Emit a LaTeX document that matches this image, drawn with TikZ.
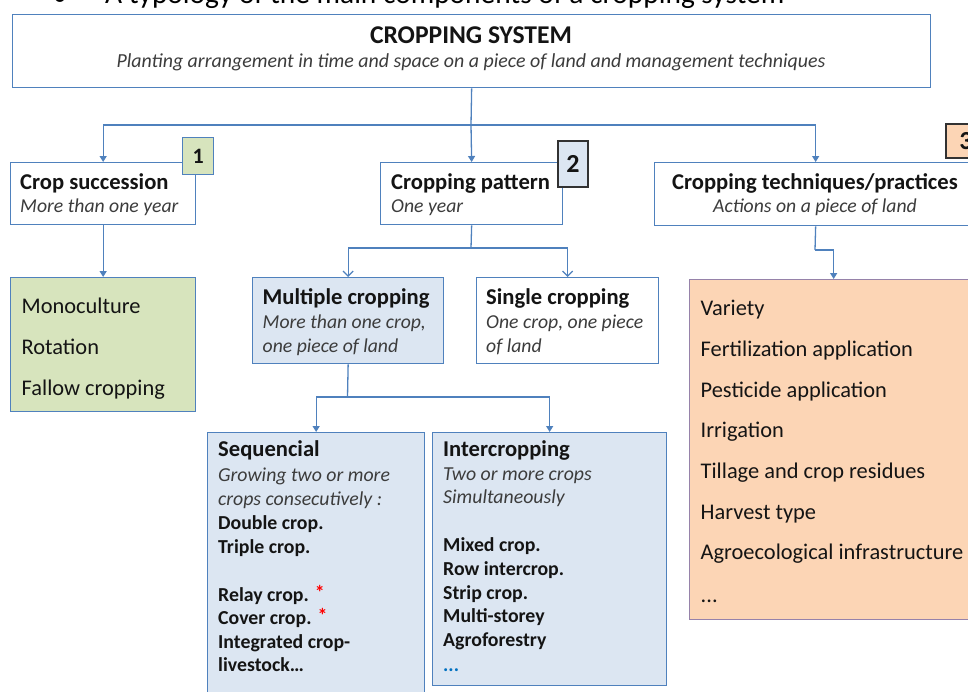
\documentclass[tikz,border=0pt]{standalone}
\usepackage{fontspec}
\setmainfont{Carlito}
\usetikzlibrary{arrows.meta}
\definecolor{lineblue}{RGB}{79,129,189}
\definecolor{lightblue}{RGB}{220,230,242}
\definecolor{lightgreen}{RGB}{215,228,189}
\definecolor{peach}{RGB}{252,213,181}
\definecolor{mauve}{RGB}{150,130,170}
\definecolor{darkedge}{RGB}{50,50,50}
\definecolor{textdark}{RGB}{20,20,20}
\definecolor{subgray}{RGB}{60,60,60}
\definecolor{dotblue}{RGB}{0,112,192}
\begin{document}
\begin{tikzpicture}[x=1pt,y=-1pt,
  box/.style={draw=lineblue, line width=1.3pt, rectangle, inner sep=0pt, anchor=north west},
  badge/.style={rectangle, inner sep=0pt, anchor=north west, font=\fontsize{22}{26}\selectfont\bfseries, text=textdark},
  conn/.style={draw=lineblue, line width=1.3pt},
  arr/.style={conn, -{Triangle[length=6pt,width=7pt]}},
  varr/.style={conn, -{Straight Barb[length=5pt,width=10pt]}},
  txt/.style={anchor=base west, inner sep=0pt, text=textdark},
  btitle/.style={txt, font=\fontsize{22.6}{27}\selectfont\bfseries},
  isub/.style={txt, font=\fontsize{19.7}{23}\selectfont\itshape, text=subgray},
  item/.style={txt, font=\fontsize{22.4}{26}\selectfont},
  sbold/.style={txt, font=\fontsize{19.8}{23}\selectfont\bfseries},
  sital/.style={txt, font=\fontsize{19.8}{23}\selectfont\itshape, text=subgray}
]
\useasboundingbox (0,0) rectangle (968,691);
% page heading (cut at top)
\node[anchor=base, inner sep=0pt, font=\fontsize{29.4}{34}\selectfont] (bul) at (60,5) {•};
\node[anchor=base west, inner sep=0pt, font=\fontsize{29.4}{34}\selectfont] (head) at (105,3) {A typology of the main components of a cropping system};
% boxes
\node[box, fill=white, minimum width=918pt, minimum height=73pt] (sys) at (12,14) {};
\node[box, fill=white, minimum width=185pt, minimum height=62pt] (succ) at (10,162) {};
\node[box, fill=white, minimum width=182pt, minimum height=62pt] (patt) at (380,162) {};
\node[box, fill=white, minimum width=322pt, minimum height=63pt] (tech) at (654,162) {};
\node[box, fill=lightgreen, minimum width=185pt, minimum height=134pt] (green) at (10,277) {};
\node[box, fill=lightblue, minimum width=191pt, minimum height=86pt] (multi) at (252,277) {};
\node[box, fill=white, minimum width=182pt, minimum height=86pt] (single) at (476,277) {};
\node[box, fill=lightblue, minimum width=217pt, minimum height=280pt] (seq) at (207,432) {};
\node[box, fill=lightblue, minimum width=234pt, minimum height=253pt] (inter) at (432,432) {};
\node[box, draw=mauve, fill=peach, minimum width=288pt, minimum height=340pt] (orange) at (689,279) {};
% badges
\node[badge, draw=lineblue, line width=1.3pt, fill=lightgreen, minimum width=31pt, minimum height=37pt] (b1) at (182,137) {1};
\node[badge, draw=darkedge, line width=2pt, fill=lightblue, minimum width=30pt, minimum height=46pt, font=\fontsize{26}{30}\selectfont\bfseries] (b2) at (557,140) {2};
\node[badge, draw=darkedge, line width=2pt, fill=peach, minimum width=40pt, minimum height=34pt, font=\fontsize{26}{30}\selectfont\bfseries] (b3) at (945,123) {3};
% connectors
\coordinate (j0) at (471,125);
\coordinate (j1) at (471,248);
\coordinate (j2) at (347.5,397);
\coordinate (j3) at (815,250);
\draw[conn] (sys.south) -- (j0);
\draw[arr] (j0) -| (succ.north);
\draw[arr] (j0) -- (patt.north);
\draw[arr] (j0) -| (tech.north);
\draw[arr] (succ.south) -- (green.north);
\draw[conn] (patt.south) -- (j1);
\draw[varr] (j1) -| (multi.north);
\draw[varr] (j1) -| (single.north);
\draw[conn] (multi.south) -- (j2);
\draw[arr] (j2) -| (seq.north);
\draw[arr] (j2) -| (inter.north);
\draw[conn] (tech.south) -- (j3);
\draw[arr] (j3) -| (orange.north);
% texts: cropping system
\node[anchor=base, inner sep=0pt, text=textdark, font=\fontsize{25.6}{30}\selectfont\bfseries] (t-sys) at (471,43) {CROPPING SYSTEM};
\node[anchor=base, inner sep=0pt, text=subgray, font=\fontsize{19.9}{23}\selectfont\itshape] (s-sys) at (471,67) {Planting arrangement in time and space on a piece of land and management techniques};
% crop succession
\node[btitle] (t-succ) at (20,189) {Crop succession};
\node[isub] (s-succ) at (20,212) {More than one year};
% cropping pattern
\node[btitle] (t-patt) at (391,189) {Cropping pattern};
\node[isub] (s-patt) at (391,212) {One year};
% techniques
\node[btitle, anchor=base] (t-tech) at (815,189) {Cropping techniques/practices};
\node[isub, anchor=base] (s-tech) at (815,212) {Actions on a piece of land};
% green list
\node[item] (g1) at (21.5,313) {Monoculture};
\node[item] (g2) at (21.5,354) {Rotation};
\node[item] (g3) at (21.5,395) {Fallow cropping};
% multiple / single
\node[btitle] (t-multi) at (262.5,304) {Multiple cropping};
\node[isub] (s-multi1) at (262.5,328) {More than one crop,};
\node[isub] (s-multi2) at (262.5,352) {one piece of land};
\node[btitle] (t-single) at (486,304) {Single cropping};
\node[isub] (s-single1) at (486,328) {One crop, one piece};
\node[isub] (s-single2) at (486,352) {of land};
% sequencial
\node[btitle] (t-seq) at (218,456.5) {Sequencial};
\node[sital] (s-seq1) at (218,481.5) {Growing two or more};
\node[sital] (s-seq2) at (218,505) {crops consecutively :};
\node[sbold] (q1) at (218,529.5) {Double crop.};
\node[sbold] (q2) at (218,553) {Triple crop.};
\node[sbold] (q3) at (218,601) {Relay crop. \textcolor{red}{\raisebox{2pt}{*}}};
\node[sbold] (q4) at (218,624.5) {Cover crop. \textcolor{red}{\raisebox{2pt}{*}}};
\node[sbold] (q5) at (218,648) {Integrated crop-};
\node[sbold] (q6) at (218,671.5) {livestock…};
% intercropping
\node[btitle] (t-inter) at (443,456) {Intercropping};
\node[sital] (s-inter1) at (443,480.5) {Two or more crops};
\node[sital] (s-inter2) at (443,503.5) {Simultaneously};
\node[sbold] (r1) at (443,551.5) {Mixed crop.};
\node[sbold] (r2) at (443,575) {Row intercrop.};
\node[sbold] (r3) at (443,599) {Strip crop.};
\node[sbold] (r4) at (443,622.5) {Multi-storey};
\node[sbold] (r5) at (443,646) {Agroforestry};
\node[sbold, text=dotblue] (r6) at (443,671.5) {...};
% orange list
\node[item] (o1) at (700.5,315) {Variety};
\node[item] (o2) at (700.5,356) {Fertilization application};
\node[item] (o3) at (700.5,397) {Pesticide application};
\node[item] (o4) at (700.5,437.5) {Irrigation};
\node[item] (o5) at (700.5,478.5) {Tillage and crop residues};
\node[item] (o6) at (700.5,519) {Harvest type};
\node[item] (o7) at (700.5,559.5) {Agroecological infrastructure};
\node[item] (o8) at (700.5,602) {...};
\end{tikzpicture}
\end{document}
